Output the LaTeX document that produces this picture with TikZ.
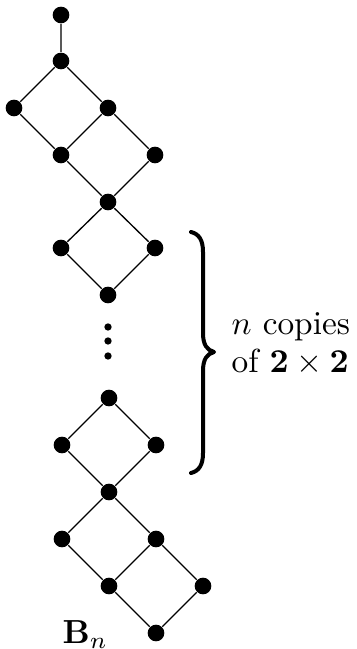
\documentclass[tikz,border=0pt]{standalone}
\begin{document}
\begin{tikzpicture}[x=0.3pt,y=-0.3pt,
  vtx/.style={circle,fill=black,inner sep=0pt,minimum size=5pt},
  smalldot/.style={circle,fill=black,inner sep=0pt,minimum size=2.2pt},
  edge/.style={line width=0.4pt},
  bracestyle/.style={line width=1.2pt,line cap=round,line join=round},
  lbl/.style={inner sep=0pt,anchor=base west,font=\fontsize{10}{12}\selectfont}]
\useasboundingbox (0,0) rectangle (356,649);
% top part
\node[vtx] (t0) at (61,15) {};
\node[vtx] (a1) at (61,61) {};
\node[vtx] (a2) at (14,108) {};
\node[vtx] (a3) at (108,108) {};
\node[vtx] (a4) at (61,155) {};
\node[vtx] (a5) at (155,155) {};
\node[vtx] (a6) at (108,202) {};
% first diamond
\node[vtx] (d1) at (61,248) {};
\node[vtx] (d2) at (155,248) {};
\node[vtx] (d3) at (108,295) {};
% dots
\node[smalldot] (p1) at (108,327) {};
\node[smalldot] (p2) at (108,341) {};
\node[smalldot] (p3) at (108,356) {};
% last diamond
\node[vtx] (e1) at (109,398) {};
\node[vtx] (e2) at (62,445) {};
\node[vtx] (e3) at (156,445) {};
\node[vtx] (e4) at (109,492) {};
% bottom part
\node[vtx] (f1) at (62,539) {};
\node[vtx] (f2) at (156,539) {};
\node[vtx] (f3) at (109,586) {};
\node[vtx] (f4) at (203,586) {};
\node[vtx] (f5) at (156,633) {};
% edges
\draw[edge] (t0)--(a1) (a1)--(a2) (a1)--(a3) (a2)--(a4) (a3)--(a4) (a3)--(a5)
  (a4)--(a6) (a5)--(a6)
  (a6)--(d1) (a6)--(d2) (d1)--(d3) (d2)--(d3)
  (e1)--(e2) (e1)--(e3) (e2)--(e4) (e3)--(e4)
  (e4)--(f1) (e4)--(f2) (f1)--(f3) (f2)--(f3) (f2)--(f4) (f3)--(f5) (f4)--(f5);
% brace
\coordinate (btop) at (191,232);
\coordinate (btip) at (214,352);
\coordinate (bbot) at (191,473);
\draw[bracestyle] (btop) .. controls (199,234) and (203,240) .. (203,252)
  -- (203,333) .. controls (203,345) and (207,350) .. (btip)
  .. controls (207,354) and (203,359) .. (203,371)
  -- (203,453) .. controls (203,465) and (199,471) .. (bbot);
\node[lbl] (t1) at (231,335) {$n$ copies};
\node[lbl] (t2) at (231,372.5) {of $\mathbf{2}\times\mathbf{2}$};
\node[lbl] (bn) at (62,643) {$\mathbf{B}_n$};
\end{tikzpicture}
\end{document}
